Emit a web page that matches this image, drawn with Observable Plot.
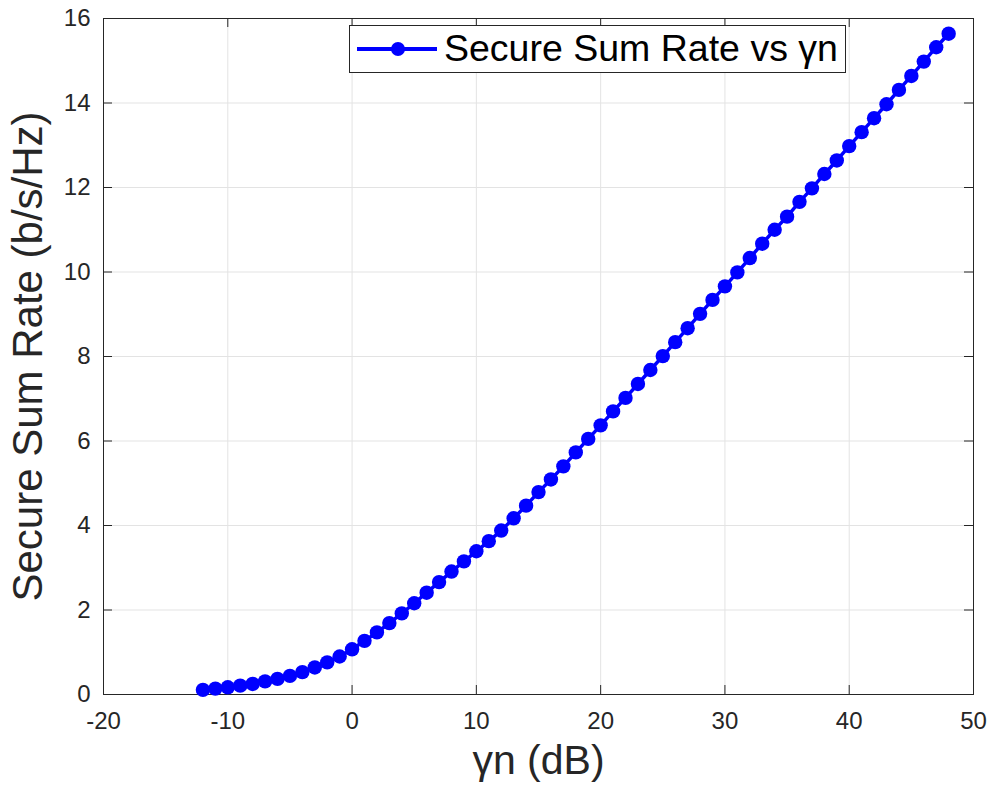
<!DOCTYPE html>
<html>
<head>
<meta charset="utf-8">
<script src="https://cdn.jsdelivr.net/npm/d3@7"></script>
<script src="https://cdn.jsdelivr.net/npm/@observablehq/plot@0.6"></script>
<style>
  html, body { margin: 0; padding: 0; background: #fff; }
  #wrap { position: relative; width: 992px; height: 801px; font-family: "Liberation Sans", Arial, Helvetica, sans-serif; }
  #legend { position: absolute; left: 349px; top: 25px; width: 497px; height: 48px; border: 1px solid #262626; background: #fff; box-sizing: border-box; display: flex; align-items: center; }
  #legend svg { margin-left: 7px; }
  #legend span { font-size: 37.5px; color: #000; margin-left: 7px; line-height: 1; white-space: nowrap; }
</style>
</head>
<body>
<div id="wrap"></div>
<script>
// Data
const gammaDb = [-12,-11,-10,-9,-8,-7,-6,-5,-4,-3,-2,-1,0,1,2,3,4,5,6,7,8,9,10,11,12,13,14,15,16,17,18,19,20,21,22,23,24,25,26,27,28,29,30,31,32,33,34,35,36,37,38,39,40,41,42,43,44,45,46,47,48];
const secureSumRate = [0.11,0.14,0.17,0.21,0.25,0.31,0.37,0.44,0.53,0.64,0.76,0.90,1.07,1.27,1.47,1.69,1.92,2.16,2.41,2.66,2.91,3.15,3.39,3.63,3.88,4.17,4.47,4.79,5.09,5.40,5.73,6.05,6.37,6.70,7.02,7.35,7.68,8.01,8.34,8.67,9.01,9.34,9.66,9.99,10.33,10.67,11.00,11.31,11.66,11.98,12.32,12.64,12.98,13.31,13.64,13.97,14.31,14.64,14.98,15.32,15.64];
const xTicks = [-20,-10,0,10,20,30,40,50];
const yTicks = [0,2,4,6,8,10,12,14,16];
const xLabel = "γn (dB)";
const yLabel = "Secure Sum Rate (b/s/Hz)";
const seriesName = "Secure Sum Rate vs γn";

const data = gammaDb.map((g, i) => ({g, r: secureSumRate[i]}));

const W = 992, H = 801;
const mt = 18, mr = 19, mb = 107, ml = 103;
const pw = W - ml - mr, ph = H - mt - mb;
const tickLen = 9;
const axisColor = "#262626";
const blue = "#0000ff";

const chart = Plot.plot({
  width: W, height: H,
  marginTop: mt, marginRight: mr, marginBottom: mb, marginLeft: ml,
  style: {fontFamily: "'Liberation Sans', Arial, Helvetica, sans-serif", color: axisColor, background: "#fff"},
  x: {domain: [-20, 50]},
  y: {domain: [0, 16]},
  marks: [
    Plot.gridX(xTicks, {stroke: "#e3e3e3", strokeOpacity: 1}),
    Plot.gridY(yTicks, {stroke: "#e3e3e3", strokeOpacity: 1}),
    Plot.frame({stroke: axisColor, strokeWidth: 1}),
    Plot.tickX(xTicks, {x: d => d, stroke: axisColor, insetTop: ph - tickLen}),
    Plot.tickX(xTicks, {x: d => d, stroke: axisColor, insetBottom: ph - tickLen}),
    Plot.tickY(yTicks, {y: d => d, stroke: axisColor, insetRight: pw - tickLen}),
    Plot.tickY(yTicks, {y: d => d, stroke: axisColor, insetLeft: pw - tickLen}),
    Plot.axisX(xTicks, {tickSize: 0, tickPadding: 17, fontSize: 24, label: null, tickFormat: d => String(d)}),
    Plot.axisY(yTicks, {tickSize: 0, tickPadding: 13, fontSize: 24, label: null, tickFormat: d => String(d)}),
    Plot.line(data, {x: "g", y: "r", stroke: blue, strokeWidth: 3.5}),
    Plot.dot(data, {x: "g", y: "r", r: 7.2, fill: blue, stroke: "none"}),
    Plot.text([xLabel], {text: d => d, frameAnchor: "bottom", textAnchor: "middle", dy: 79, fontSize: 41, fill: axisColor}),
    Plot.text([yLabel], {text: d => d, frameAnchor: "left", textAnchor: "middle", dx: -75, rotate: -90, fontSize: 42, fill: axisColor})
  ]
});

const wrap = document.getElementById("wrap");
wrap.appendChild(chart);

const legend = document.createElement("div");
legend.id = "legend";
legend.innerHTML = `<svg width="80" height="20"><line x1="0" y1="10" x2="80" y2="10" stroke="${blue}" stroke-width="4"/><circle cx="41" cy="10" r="7" fill="${blue}"/></svg><span>${seriesName}</span>`;
wrap.appendChild(legend);
</script>
</body>
</html>
